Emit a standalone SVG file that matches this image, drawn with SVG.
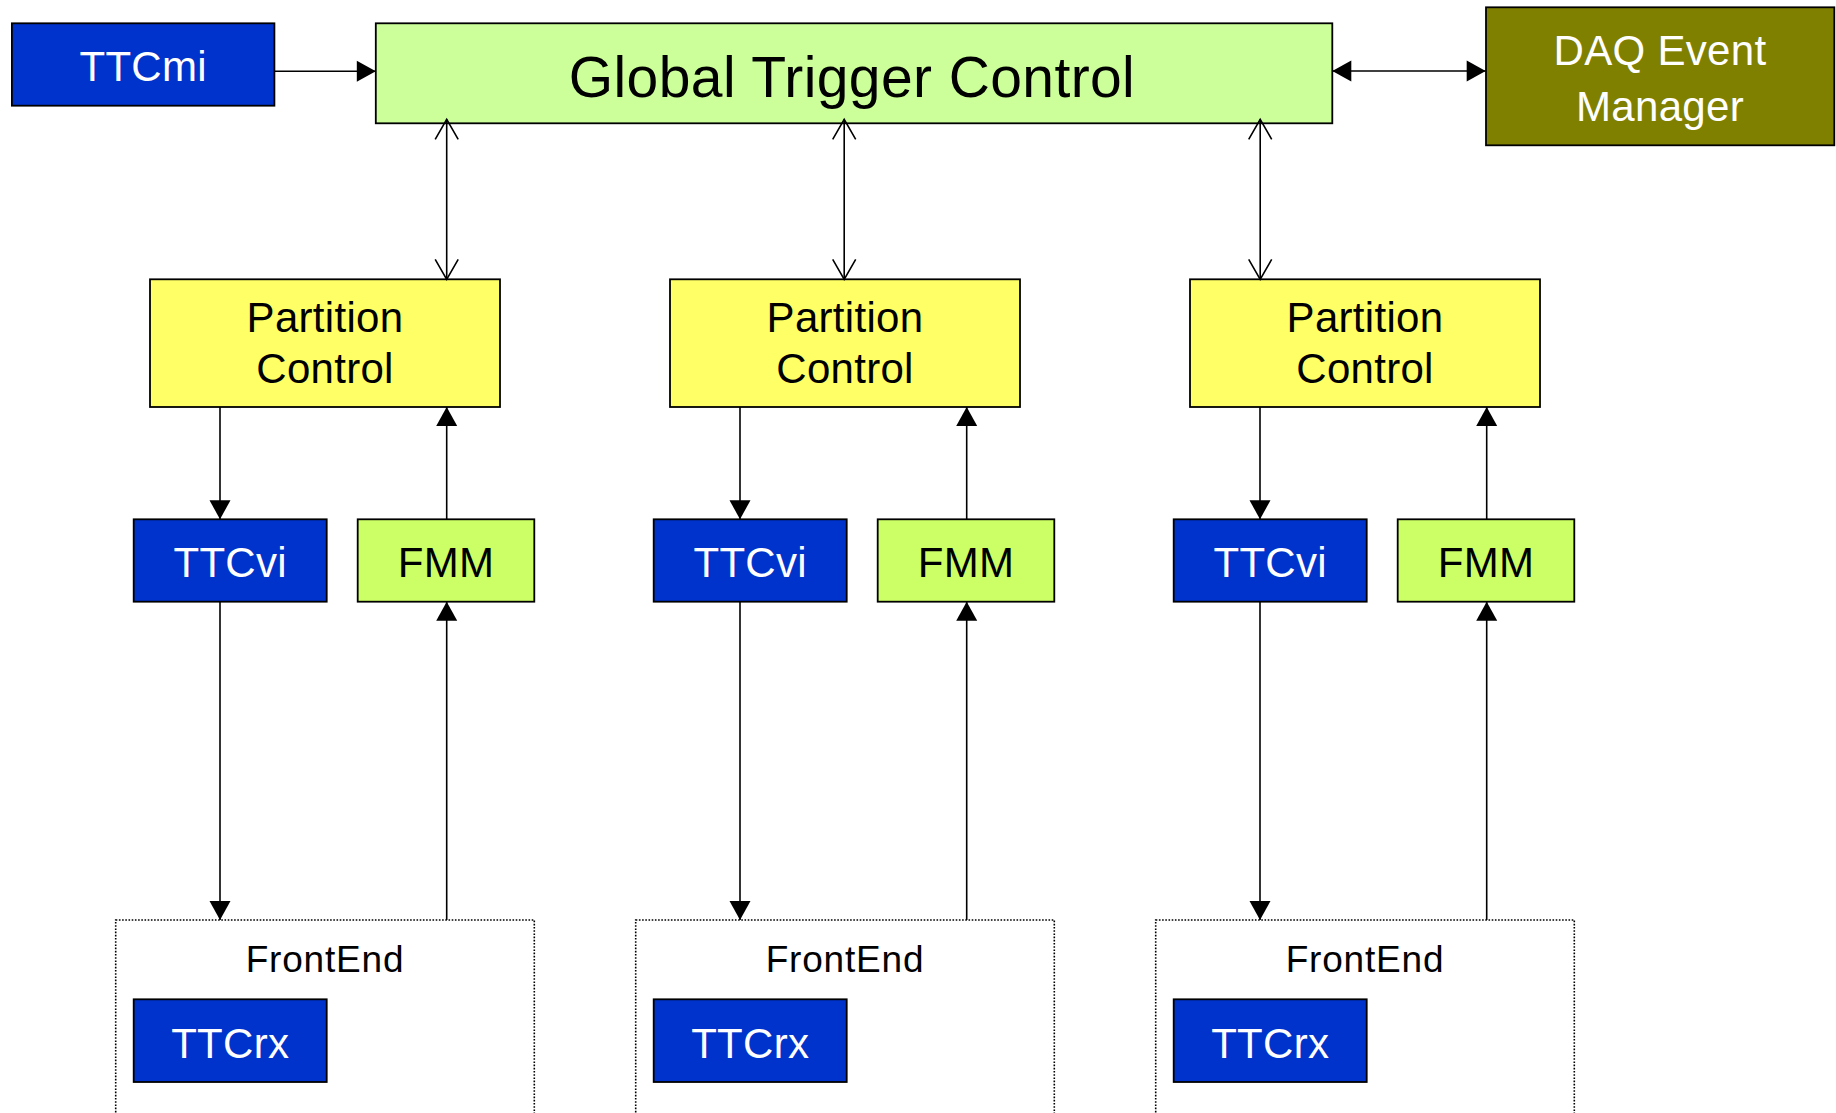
<svg xmlns="http://www.w3.org/2000/svg" width="1836" height="1113" viewBox="0 0 1836 1113">
  <style>
    .box { stroke: #000; stroke-width: 1.8; }
    .ttc { fill: #0033CC; }
    .gtc { fill: #CCFF99; }
    .daq { fill: #808000; }
    .part { fill: #FFFF66; }
    .fmm { fill: #CCFF66; }
    .fe { fill: none; stroke: #000; stroke-width: 1.6; stroke-dasharray: 1.6 1.6; }
    text { font-family: "Liberation Sans", Arial, sans-serif; text-anchor: middle; }
    .lbl { font-size: 42px; fill: #000; letter-spacing: 0.3px; }
    .wlbl { font-size: 42px; fill: #fff; letter-spacing: 0.3px; }
    .big { font-size: 57px; fill: #000; letter-spacing: 0.4px; }
    .small { font-size: 37px; fill: #000; letter-spacing: 0.8px; }
    .wire { fill: none; stroke: #000; stroke-width: 1.6; }
  </style>
  <defs>
    <marker id="solid" markerUnits="userSpaceOnUse" markerWidth="20" markerHeight="22" refX="19" refY="10.5" orient="auto-start-reverse" overflow="visible">
      <path d="M0,0 L19,10.5 L0,21 z" fill="#000"/>
    </marker>
    <marker id="open" markerUnits="userSpaceOnUse" markerWidth="22" markerHeight="24" refX="20" refY="11.5" orient="auto-start-reverse" overflow="visible">
      <path d="M0,0 L20,11.5 L0,23" fill="none" stroke="#000" stroke-width="1.6"/>
    </marker>
  </defs>

  <rect width="1836" height="1113" fill="#fff"/>

  <!-- top row -->
  <g id="ttcmi">
    <rect class="box ttc" x="11.9" y="23.3" width="262.5" height="82.4"/>
    <text class="wlbl" x="143.2" y="80.7">TTCmi</text>
  </g>
  <g id="gtc">
    <rect class="box gtc" x="375.8" y="23.3" width="956.5" height="100"/>
    <text class="big" x="852" y="96.5">Global Trigger Control</text>
  </g>
  <g id="daq">
    <rect class="box daq" x="1486" y="7.3" width="348.3" height="138"/>
    <text class="wlbl" x="1660" y="65">DAQ Event</text>
    <text class="wlbl" x="1660" y="120.5">Manager</text>
  </g>

  <!-- column 1 -->
  <g id="partition1">
    <rect class="box part" x="150" y="279.3" width="350" height="127.7"/>
    <text class="lbl" x="325" y="331.7">Partition</text>
    <text class="lbl" x="325" y="383.3">Control</text>
  </g>
  <g id="ttcvi1">
    <rect class="box ttc" x="133.7" y="519.3" width="193" height="82.4"/>
    <text class="wlbl" x="230.2" y="577.3">TTCvi</text>
  </g>
  <g id="fmm1">
    <rect class="box fmm" x="357.7" y="519.3" width="176.6" height="82.4"/>
    <text class="lbl" x="446" y="577.3">FMM</text>
  </g>
  <g id="frontend1">
    <rect class="fe" x="115.7" y="920" width="418.6" height="220"/>
    <text class="small" x="325" y="971.7">FrontEnd</text>
  </g>
  <g id="ttcrx1">
    <rect class="box ttc" x="133.7" y="999.3" width="193" height="82.7"/>
    <text class="wlbl" x="230.2" y="1058.3">TTCrx</text>
  </g>

  <!-- column 2 -->
  <g id="partition2">
    <rect class="box part" x="670" y="279.3" width="350" height="127.7"/>
    <text class="lbl" x="845" y="331.7">Partition</text>
    <text class="lbl" x="845" y="383.3">Control</text>
  </g>
  <g id="ttcvi2">
    <rect class="box ttc" x="653.7" y="519.3" width="193" height="82.4"/>
    <text class="wlbl" x="750.2" y="577.3">TTCvi</text>
  </g>
  <g id="fmm2">
    <rect class="box fmm" x="877.7" y="519.3" width="176.6" height="82.4"/>
    <text class="lbl" x="966" y="577.3">FMM</text>
  </g>
  <g id="frontend2">
    <rect class="fe" x="635.7" y="920" width="418.6" height="220"/>
    <text class="small" x="845" y="971.7">FrontEnd</text>
  </g>
  <g id="ttcrx2">
    <rect class="box ttc" x="653.7" y="999.3" width="193" height="82.7"/>
    <text class="wlbl" x="750.2" y="1058.3">TTCrx</text>
  </g>

  <!-- column 3 -->
  <g id="partition3">
    <rect class="box part" x="1190" y="279.3" width="350" height="127.7"/>
    <text class="lbl" x="1365" y="331.7">Partition</text>
    <text class="lbl" x="1365" y="383.3">Control</text>
  </g>
  <g id="ttcvi3">
    <rect class="box ttc" x="1173.7" y="519.3" width="193" height="82.4"/>
    <text class="wlbl" x="1270.2" y="577.3">TTCvi</text>
  </g>
  <g id="fmm3">
    <rect class="box fmm" x="1397.7" y="519.3" width="176.6" height="82.4"/>
    <text class="lbl" x="1486" y="577.3">FMM</text>
  </g>
  <g id="frontend3">
    <rect class="fe" x="1155.7" y="920" width="418.6" height="220"/>
    <text class="small" x="1365" y="971.7">FrontEnd</text>
  </g>
  <g id="ttcrx3">
    <rect class="box ttc" x="1173.7" y="999.3" width="193" height="82.7"/>
    <text class="wlbl" x="1270.2" y="1058.3">TTCrx</text>
  </g>

  <!-- connectors -->
  <g id="connectors">
    <path class="wire" d="M274.4,71.3 H375.8" marker-end="url(#solid)"/>
    <path class="wire" d="M1332.3,71 H1485.7" marker-start="url(#solid)" marker-end="url(#solid)"/>

    <path class="wire" d="M446.7,119.3 V279.3" marker-start="url(#open)" marker-end="url(#open)"/>
    <path class="wire" d="M844.2,119.3 V279.3" marker-start="url(#open)" marker-end="url(#open)"/>
    <path class="wire" d="M1260.2,119.3 V279.3" marker-start="url(#open)" marker-end="url(#open)"/>

    <path class="wire" d="M220,407 V519.3" marker-end="url(#solid)"/>
    <path class="wire" d="M446.7,519.3 V407" marker-end="url(#solid)"/>
    <path class="wire" d="M220,601.7 V920" marker-end="url(#solid)"/>
    <path class="wire" d="M446.7,920 V601.7" marker-end="url(#solid)"/>

    <path class="wire" d="M740,407 V519.3" marker-end="url(#solid)"/>
    <path class="wire" d="M966.7,519.3 V407" marker-end="url(#solid)"/>
    <path class="wire" d="M740,601.7 V920" marker-end="url(#solid)"/>
    <path class="wire" d="M966.7,920 V601.7" marker-end="url(#solid)"/>

    <path class="wire" d="M1260,407 V519.3" marker-end="url(#solid)"/>
    <path class="wire" d="M1486.7,519.3 V407" marker-end="url(#solid)"/>
    <path class="wire" d="M1260,601.7 V920" marker-end="url(#solid)"/>
    <path class="wire" d="M1486.7,920 V601.7" marker-end="url(#solid)"/>
  </g>
</svg>
